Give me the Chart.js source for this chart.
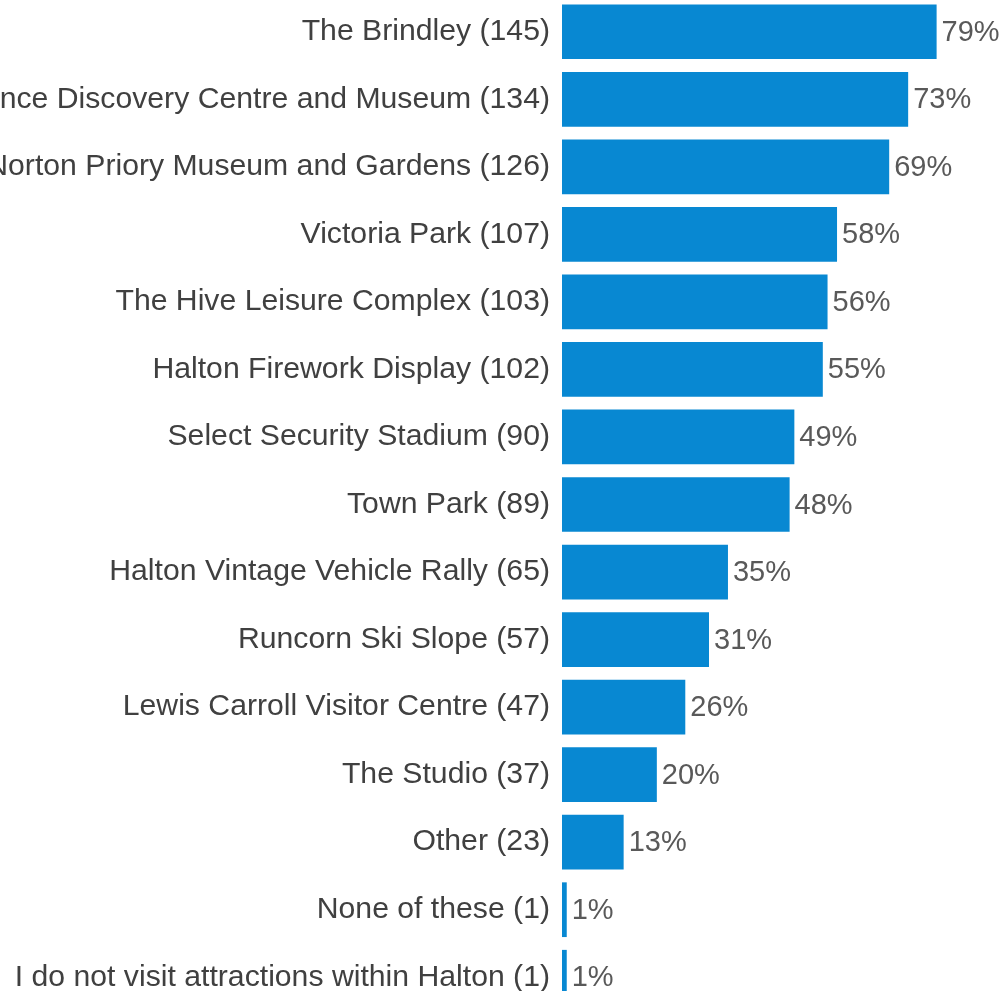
<!DOCTYPE html>
<html>
<head>
<meta charset="utf-8">
<script src="https://cdn.jsdelivr.net/npm/chart.js@4/dist/chart.umd.min.js"></script>
<style>
  html, body { margin: 0; padding: 0; background: #fff; overflow: hidden; }
  body { width: 1003px; height: 991px; position: relative; }
  #chart { position: absolute; left: -300px; top: -2px; }
</style>
</head>
<body>
<canvas id="chart" width="1303" height="1013"></canvas>
<script>
// attraction names with response counts, as labelled in the picture
const categories = [
  "The Brindley (145)",
  "Catalyst Science Discovery Centre and Museum (134)",
  "Norton Priory Museum and Gardens (126)",
  "Victoria Park (107)",
  "The Hive Leisure Complex (103)",
  "Halton Firework Display (102)",
  "Select Security Stadium (90)",
  "Town Park (89)",
  "Halton Vintage Vehicle Rally (65)",
  "Runcorn Ski Slope (57)",
  "Lewis Carroll Visitor Centre (47)",
  "The Studio (37)",
  "Other (23)",
  "None of these (1)",
  "I do not visit attractions within Halton (1)"
];
// share of respondents, %
const percentValues = [79, 73, 69, 58, 56, 55, 49, 48, 35, 31, 26, 20, 13, 1, 1];

const FONT = "'Liberation Sans', Arial, sans-serif";

// value labels at the end of each bar
const barLabels = {
  id: "barLabels",
  afterDatasetsDraw(chart){
    const ctx = chart.ctx;
    const meta = chart.getDatasetMeta(0);
    ctx.save();
    ctx.font = "29px " + FONT;
    ctx.fillStyle = "#595959";
    ctx.textAlign = "left";
    ctx.textBaseline = "middle";
    meta.data.forEach((bar, i)=>{
      ctx.fillText(percentValues[i] + "%", bar.x + 5, bar.y + 1);
    });
    ctx.restore();
  }
};

new Chart(document.getElementById("chart"), {
  type: "bar",
  data: {
    labels: categories,
    datasets: [{
      data: percentValues,
      backgroundColor: "#0888D2",
      borderWidth: 0,
      barPercentage: 0.81,
      categoryPercentage: 1
    }]
  },
  options: {
    indexAxis: "y",
    responsive: false,
    animation: false,
    layout: { padding: 0 },
    plugins: {
      legend: { display: false },
      tooltip: { enabled: false }
    },
    scales: {
      x: {
        display: false,
        min: 0,
        max: 93
      },
      y: {
        grid: { display: false, drawTicks: false },
        border: { display: false },
        ticks: {
          autoSkip: false,
          padding: 12,
          color: "#404040",
          font: { family: FONT, size: 30.2 }
        },
        afterFit(scale){
          scale.width = 862;
          scale.paddingTop = 0;
          scale.paddingBottom = 0;
        }
      }
    }
  },
  plugins: [barLabels]
});
</script>
</body>
</html>
